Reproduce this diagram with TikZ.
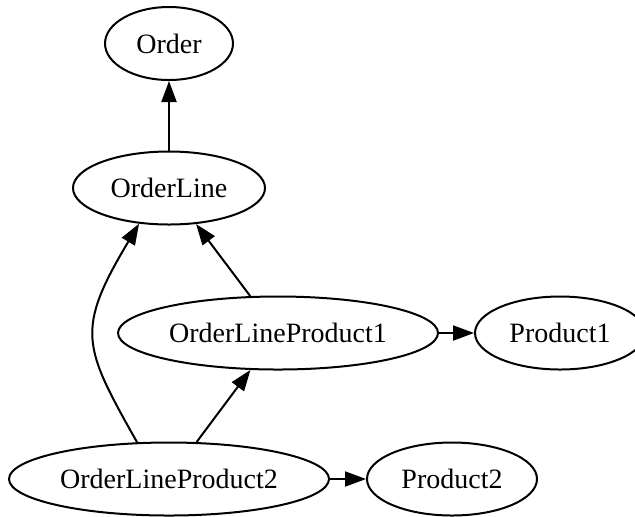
\documentclass[tikz,border=0pt]{standalone}
\usepackage{fontspec}
\setmainfont{Liberation Serif}
\usepackage{tikz}
\usetikzlibrary{arrows.meta,positioning,shapes.geometric}

\begin{document}
\begin{tikzpicture}[
    x=0.5pt, y=-0.5pt,
    every node/.style={font=\fontsize{14pt}{17pt}\selectfont},
    ent/.style={draw, ellipse, line width=1pt, inner sep=0pt, minimum height=36.5pt},
    arr/.style={-{Triangle[length=10.5pt,width=7.5pt]}, line width=1pt}
]
\useasboundingbox (0,0) rectangle (635,516);

\node[ent, minimum width=64pt] (ord) at (169,43.5) {Order};
\node[ent, minimum width=96pt] (ol) at (169,188) {OrderLine};
\node[ent, minimum width=160pt] (olp1) at (278,333) {OrderLineProduct1};
\node[ent, minimum width=85pt, right=17.5pt of olp1] (prod1) {Product1};
\node[ent, minimum width=160pt] (olp2) at (169,479) {OrderLineProduct2};
\node[ent, minimum width=85pt, right=18pt of olp2] (prod2) {Product2};

\draw[arr] (ol) -- (ord);
\draw[arr] (olp1) -- (ol);
\draw[arr] (olp2.131) .. controls +(-54,-96) and +(-64,107) .. (ol.230);
\draw[arr] (olp2) -- (olp1);
\draw[arr] (olp1) -- (prod1);
\draw[arr] (olp2) -- (prod2);
\end{tikzpicture}
\end{document}
